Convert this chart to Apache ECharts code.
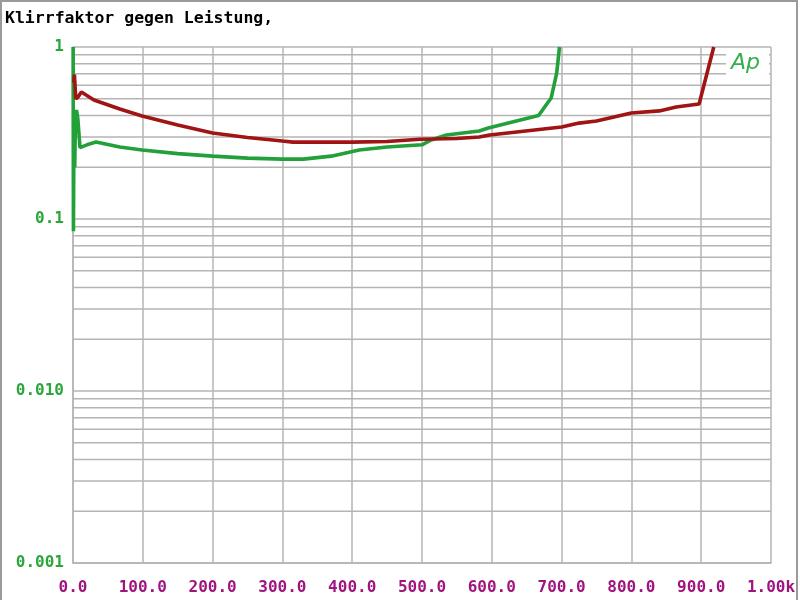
<!DOCTYPE html>
<html><head><meta charset="utf-8">
<script src="https://cdn.jsdelivr.net/npm/echarts@6/dist/echarts.min.js"></script>
<style>html,body{margin:0;padding:0;background:#fff}#c{width:800px;height:600px}</style>
</head><body><div id="c"></div>
<script>
const title = 'Klirrfaktor gegen Leistung,';
const xTicks = [0,100,200,300,400,500,600,700,800,900,1000];
const yMajor = [0.001,0.01,0.1,1];
const yMinor = [0.002,0.003,0.004,0.005,0.006,0.007,0.008,0.009,
                0.02,0.03,0.04,0.05,0.06,0.07,0.08,0.09,
                0.2,0.3,0.4,0.5,0.6,0.7,0.8,0.9];
// Green curve: power (W), THD
const greenW = [0.2,0.6,1.5,2.5,3.5,5,7,10,20,33,67,99,150,200,250,300,330,370,410,450,500,513,535,582,595,667,685,693,697];
const greenV = [1.0,0.085,0.40,0.20,0.38,0.43,0.38,0.26,0.27,0.28,0.262,0.252,0.240,0.232,0.226,0.223,0.223,0.232,0.252,0.262,0.27,0.288,0.308,0.325,0.338,0.40,0.505,0.706,1.0];
// Red curve
const redW = [1,2,4,7,12,30,67,99,150,200,250,300,315,400,450,497,550,582,597,700,725,750,800,840,864,897,918];
const redV = [0.62,0.69,0.50,0.51,0.547,0.492,0.436,0.397,0.352,0.316,0.298,0.284,0.280,0.280,0.282,0.291,0.294,0.300,0.308,0.343,0.361,0.371,0.413,0.425,0.448,0.466,1.0];

const pair = (a,b)=>a.map((v,i)=>[v,b[i]]);
const chart = echarts.init(document.getElementById('c'));
const mono = '"DejaVu Sans Mono", monospace';
const gridCol = '#b4b4b4';
const minorSeries = yMinor.map(v=>({type:'line',silent:true,symbol:'none',showSymbol:false,
  data:[[0,v],[1000,v]],lineStyle:{color:gridCol,width:1.5},z:1}));
chart.setOption({
  animation:false,
  backgroundColor:'#fff',
  grid:{left:73,right:29,top:47,bottom:37},
  xAxis:{type:'value',min:0,max:1000,interval:100,
    axisLine:{show:true,lineStyle:{color:gridCol,width:1.5}},
    axisTick:{show:false},
    splitLine:{show:true,lineStyle:{color:gridCol,width:1.5}},
    axisLabel:{color:'#a0147f',fontFamily:mono,fontWeight:'bold',fontSize:16,margin:17,
      formatter:v=>v===1000?'1.00k':v.toFixed(1),
      customValues:xTicks}
  },
  yAxis:{type:'log',logBase:10,min:0.001,max:1,
    axisLine:{show:true,lineStyle:{color:gridCol,width:1.5}},
    axisTick:{show:false},
    splitLine:{show:true,lineStyle:{color:gridCol,width:1.5}},
    axisLabel:{color:'#2aa63a',fontFamily:mono,fontWeight:'bold',fontSize:16,margin:9,
      formatter:v=>{ if(Math.abs(v-1)<1e-9) return '1'; if(Math.abs(v-0.1)<1e-9) return '0.1'; if(Math.abs(v-0.01)<1e-9) return '0.010'; if(Math.abs(v-0.001)<1e-9) return '0.001'; return ''; }}
  },
  series:minorSeries.concat([
    {name:'green',type:'line',data:pair(greenW,greenV),showSymbol:false,symbol:'none',z:3,
      lineStyle:{color:'#22a03a',width:3.6},itemStyle:{color:'#22a03a'}},
    {name:'red',type:'line',data:pair(redW,redV),showSymbol:false,symbol:'none',z:4,
      lineStyle:{color:'#a01414',width:3.6},itemStyle:{color:'#a01414'}}
  ]),
  graphic:[
    {type:'rect',shape:{x:1,y:1,width:796,height:640},style:{fill:'none',stroke:'#9a9a9a',lineWidth:2},z:100},
    {type:'text',left:5,top:10,style:{text:title,font:'bold 16.5px '+mono,fill:'#000'},z:100},
    {type:'rect',shape:{x:726,y:50,width:43,height:31},style:{fill:'#fff'},z:100},
    {type:'text',left:731,top:52,style:{text:'Ap',font:'italic 22px "DejaVu Sans", sans-serif',fill:'#33b04a'},z:101}
  ]
});
</script></body></html>
